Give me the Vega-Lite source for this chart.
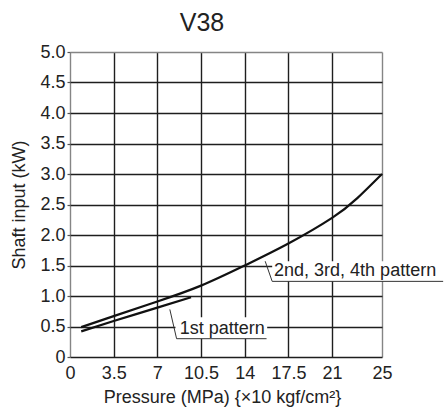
{
  "$schema": "https://vega.github.io/schema/vega-lite/v6.json",
  "autosize": {"type": "none"},
  "padding": {"left": 70, "top": 52, "right": 62, "bottom": 54},
  "width": 312,
  "height": 305,
  "background": "white",
  "config": {
    "font": "Liberation Sans",
    "view": {"stroke": null},
    "axis": {"domain": false, "labelFont": "Liberation Sans", "titleFont": "Liberation Sans", "labelColor": "#222", "titleColor": "#222", "labelFontSize": 18, "titleFontSize": 18, "titleFontWeight": "normal"}
  },
  "title": {"text": "V38", "fontSize": 25, "fontWeight": "normal", "font": "Liberation Sans", "color": "#222", "anchor": "middle", "frame": "group", "dx": -24, "offset": 7},
  "datasets": {
    "curves": [
      {"series": "2nd, 3rd, 4th pattern", "p": 0.9, "kw": 0.49},
      {"series": "2nd, 3rd, 4th pattern", "p": 3.5, "kw": 0.67},
      {"series": "2nd, 3rd, 4th pattern", "p": 7, "kw": 0.91},
      {"series": "2nd, 3rd, 4th pattern", "p": 10.5, "kw": 1.17},
      {"series": "2nd, 3rd, 4th pattern", "p": 14, "kw": 1.5},
      {"series": "2nd, 3rd, 4th pattern", "p": 17.5, "kw": 1.86},
      {"series": "2nd, 3rd, 4th pattern", "p": 21, "kw": 2.28},
      {"series": "2nd, 3rd, 4th pattern", "p": 23, "kw": 2.6},
      {"series": "2nd, 3rd, 4th pattern", "p": 25, "kw": 3.0},
      {"series": "1st pattern", "p": 0.9, "kw": 0.42},
      {"series": "1st pattern", "p": 3.5, "kw": 0.59},
      {"series": "1st pattern", "p": 7, "kw": 0.81},
      {"series": "1st pattern", "p": 9.7, "kw": 0.98}
    ],
    "boxes": [
      {"label": "1st pattern", "x1": 8.45, "x2": 15.8, "y1": 0.3, "y2": 0.65},
      {"label": "2nd, 3rd, 4th pattern", "x1": 16.2, "x2": 29.9, "y1": 1.24, "y2": 1.57}
    ],
    "leaders": [
      {"label": "1st pattern", "o": 1, "p": 8.0, "kw": 0.78},
      {"label": "1st pattern", "o": 2, "p": 8.54, "kw": 0.3},
      {"label": "1st pattern", "o": 3, "p": 15.75, "kw": 0.3},
      {"label": "2nd, 3rd, 4th pattern", "o": 1, "p": 15.64, "kw": 1.57},
      {"label": "2nd, 3rd, 4th pattern", "o": 2, "p": 16.2, "kw": 1.24},
      {"label": "2nd, 3rd, 4th pattern", "o": 3, "p": 29.9, "kw": 1.24}
    ],
    "labels": [
      {"label": "1st pattern", "p": 8.8, "kw": 0.38},
      {"label": "2nd, 3rd, 4th pattern", "p": 16.35, "kw": 1.32}
    ]
  },
  "encoding": {
    "x": {
      "field": "p", "type": "quantitative",
      "scale": {"domain": [0, 25], "nice": false, "zero": false},
      "axis": {
        "values": [0, 3.5, 7, 10.5, 14, 17.5, 21, 25],
        "labelExpr": "'' + datum.value",
        "title": "Pressure (MPa) {×10 kgf/cm²}",
        "ticks": false, "tickSize": 0,
        "labelBaseline": "alphabetic", "labelPadding": 21, "labelFlush": false, "labelOverlap": false,
        "grid": true,
        "gridColor": {"condition": {"test": "datum.value == 0 || datum.value == 25", "value": "#858585"}, "value": "#1e1e1e"},
        "gridWidth": 1.4, "gridOpacity": 1,
        "titleX": 152, "titleY": 45.5, "titleBaseline": "alphabetic", "titleAlign": "center"
      }
    },
    "y": {
      "field": "kw", "type": "quantitative",
      "scale": {"domain": [0, 5], "nice": false},
      "axis": {
        "values": [0, 0.5, 1, 1.5, 2, 2.5, 3, 3.5, 4, 4.5, 5],
        "labelExpr": "datum.value == 0 ? '0' : format(datum.value, '.1f')",
        "title": "Shaft input (kW)",
        "ticks": true, "tickSize": 3, "tickColor": "#555", "tickWidth": 1.2,
        "labelPadding": 2, "labelBaseline": "middle", "labelFlush": false, "labelOverlap": false,
        "grid": true,
        "gridColor": {"condition": {"test": "datum.value == 5", "value": "#858585"}, "value": "#1e1e1e"},
        "gridWidth": 1.4, "gridOpacity": 1,
        "titleAngle": -90, "titleX": -46, "titleY": 152.5, "titleBaseline": "alphabetic", "titleAlign": "center"
      }
    }
  },
  "layer": [
    {
      "data": {"name": "boxes"},
      "mark": {"type": "rect", "fill": "white", "stroke": null},
      "encoding": {
        "x": {"field": "x1", "type": "quantitative"},
        "x2": {"field": "x2"},
        "y": {"field": "y1", "type": "quantitative"},
        "y2": {"field": "y2"}
      }
    },
    {
      "data": {"name": "curves"},
      "mark": {"type": "line", "color": "#111", "strokeWidth": 2.2, "interpolate": "natural"},
      "encoding": {"detail": {"field": "series"}}
    },
    {
      "data": {"name": "leaders"},
      "mark": {"type": "line", "color": "#333", "strokeWidth": 1},
      "encoding": {"detail": {"field": "label"}, "order": {"field": "o", "type": "quantitative"}}
    },
    {
      "data": {"name": "labels"},
      "mark": {"type": "text", "align": "left", "baseline": "alphabetic", "fontSize": 18, "font": "Liberation Sans", "color": "#222"},
      "encoding": {"text": {"field": "label"}}
    }
  ]
}
